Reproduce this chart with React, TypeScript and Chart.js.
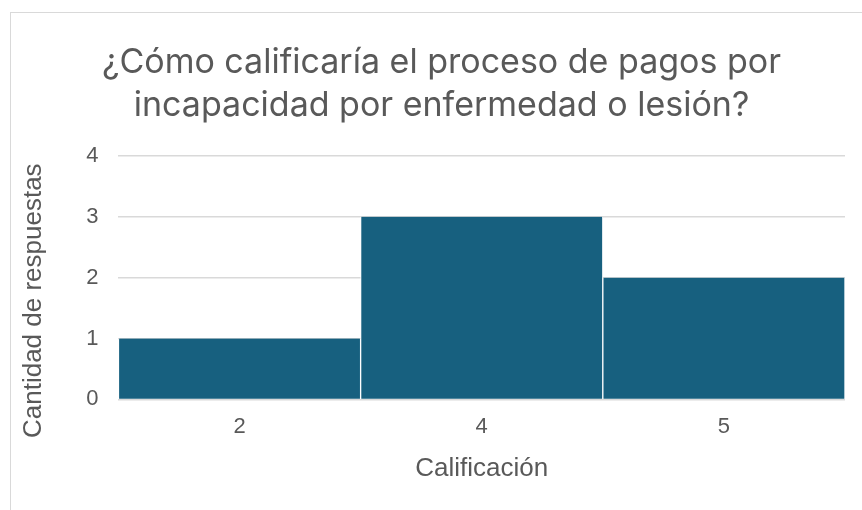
import React, { useEffect, useRef } from "react";
import { Chart, registerables } from "chart.js";

Chart.register(...registerables);

const categories = ["2", "4", "5"];
const counts = [1, 3, 2];
const titleLines = ["¿Cómo calificaría el proceso de pagos por", "incapacidad por enfermedad o lesión?"];
const yTitle = "Cantidad de respuestas";
const xTitle = "Calificación";

const axisFont = "'Liberation Sans', Arial, sans-serif";

const yTitlePlugin = {
  id: "yTitleShift",
  afterLayout(chart: any) {
    const tb = chart.titleBlock;
    if (tb) {
      tb.left += 20;
    }
  },
  afterDraw(chart: any) {
    const { ctx, chartArea } = chart;
    ctx.save();
    ctx.fillStyle = "#595959";
    ctx.font = `26px ${axisFont}`;
    ctx.textAlign = "center";
    ctx.textBaseline = "middle";
    ctx.translate(34, (chartArea.top + chartArea.bottom) / 2 + 23);
    ctx.rotate(-Math.PI / 2);
    ctx.fillText(yTitle, 0, 0);
    ctx.restore();
  },
};

export default function App() {
  const ref = useRef<HTMLCanvasElement>(null);
  useEffect(() => {
    document.body.style.margin = "0";
    const ctx = ref.current!;
    const chart = new Chart(ctx, {
      type: "bar",
      data: {
        labels: categories,
        datasets: [
          {
            data: counts,
            backgroundColor: "#17607f",
            borderColor: "#ffffff",
            borderWidth: { left: 1, right: 1, top: 0, bottom: 0 },
            borderSkipped: false,
            barPercentage: 1,
            categoryPercentage: 1,
          },
        ],
      },
      plugins: [yTitlePlugin],
      options: {
        animation: false,
        responsive: false,
        maintainAspectRatio: false,
        layout: { padding: { left: 18, right: 17, top: 42, bottom: 26 } },
        plugins: {
          legend: { display: false },
          tooltip: { enabled: false },
          title: {
            display: true,
            text: titleLines,
            color: "#595959",
            font: { family: "Inter, 'Noto Sans', sans-serif", size: 34, weight: "normal", lineHeight: 1.25 },
            padding: { top: 0, bottom: 29 },
          },
        },
        scales: {
          x: {
            grid: { display: false },
            border: { display: false },
            ticks: {
              color: "#595959",
              font: { family: axisFont, size: 22 },
              padding: 6,
            },
            title: {
              display: true,
              text: xTitle,
              color: "#595959",
              font: { family: axisFont, size: 26 },
              padding: { top: 7, bottom: 0 },
            },
          },
          y: {
            min: 0,
            max: 4,
            grid: { color: "#d9d9d9", lineWidth: 1.5, drawTicks: false },
            border: { display: false },
            ticks: {
              stepSize: 1,
              color: "#595959",
              font: { family: axisFont, size: 22 },
              padding: 20,
            },
            title: {
              display: true,
              text: yTitle,
              color: "rgba(0,0,0,0)",
              font: { family: axisFont, size: 26 },
              padding: { top: 0, bottom: 17 },
            },
          },
        },
      },
    });
    return () => chart.destroy();
  }, []);
  return (
    <div style={{ position: "relative", width: 862, height: 510, overflow: "hidden", background: "#fff" }}>
      <div
        style={{
          position: "absolute",
          left: 10,
          top: 12,
          width: 1000,
          height: 1000,
          border: "1px solid #d9d9d9",
          boxSizing: "border-box",
        }}
      />
      <canvas ref={ref} width={862} height={510} style={{ position: "absolute", left: 0, top: 0 }} />
    </div>
  );
}
